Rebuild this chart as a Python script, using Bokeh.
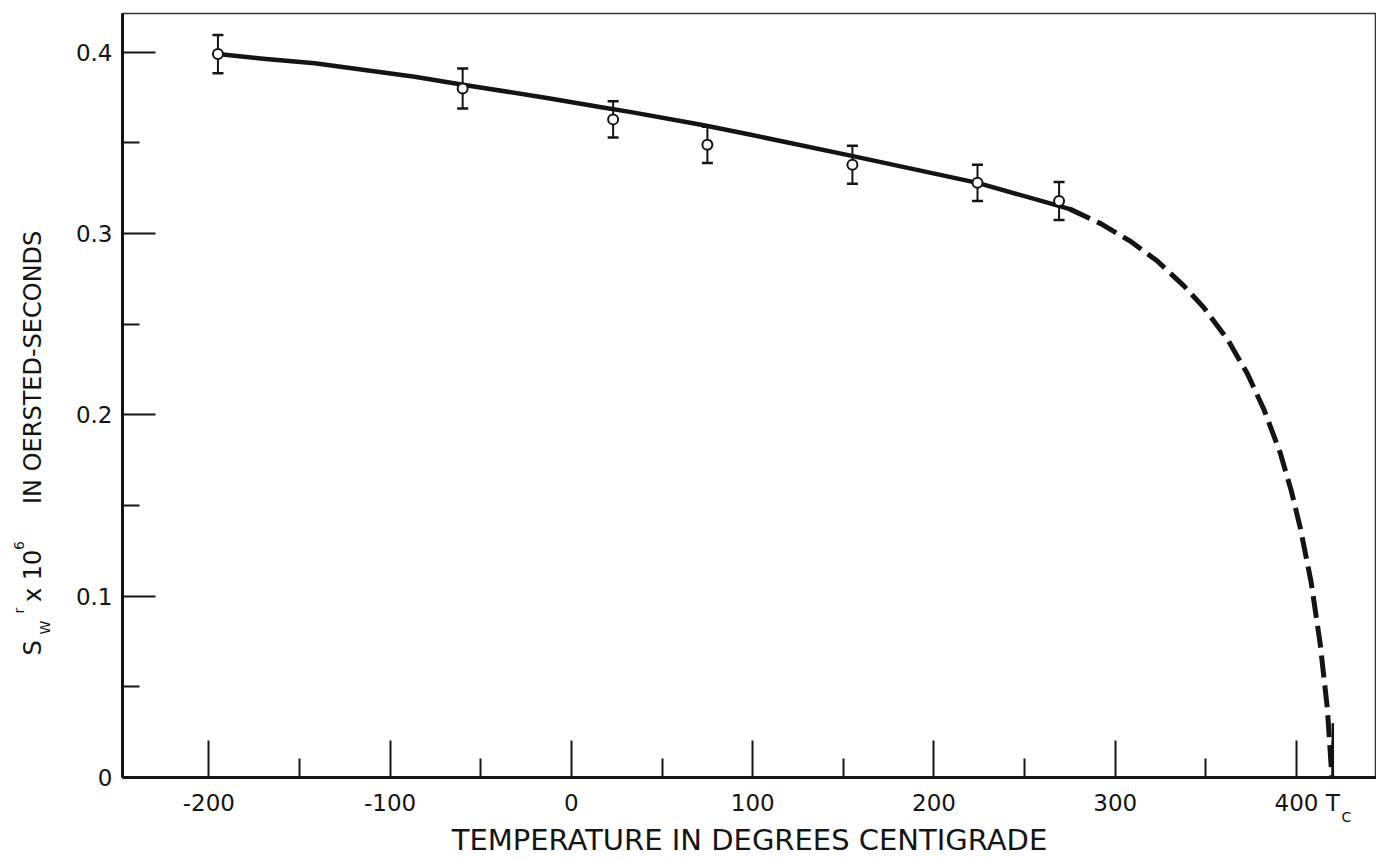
from bokeh.plotting import figure
from bokeh.models import FixedTicker, Label, Range1d
from bokeh.embed import file_html
from bokeh.resources import INLINE

# Measured remanent switching coefficient with its uncertainty
temp_c = [-195, -60, 23, 75, 155, 224, 269]
sw = [0.399, 0.380, 0.363, 0.349, 0.338, 0.328, 0.318]
sw_err = [0.0105, 0.011, 0.010, 0.010, 0.0105, 0.010, 0.0105]

# Smooth curve through the measurements (solid part)
fit_t = [-195, -170, -141.6, -86.5, -59, -12.7, 16.5, 33, 71.6, 99, 154, 224, 264.5, 275]
fit_s = [0.399, 0.3965, 0.394, 0.3865, 0.382, 0.3747, 0.3697, 0.367, 0.360, 0.3545, 0.343, 0.328, 0.3165, 0.3135]

# Extrapolation toward the Curie point (dashed part)
ext_t = [275, 292, 308, 323, 338, 349, 362, 373, 382, 391, 397, 402, 408, 413, 417, 419.5]
ext_s = [0.3135, 0.3055, 0.296, 0.285, 0.271, 0.259, 0.2415, 0.2225, 0.203, 0.179, 0.1585, 0.138, 0.108, 0.074, 0.038, 0.0]

T_CURIE = 420
T_CURIE_MARK = 0.030

x_major = [-200, -100, 0, 100, 200, 300, 400, T_CURIE]
x_labels = ["-200", "-100", "0", "100", "200", "300", "400", "T"]
x_minor = [-150, -50, 50, 150, 250, 350]
y_major = [0, 0.1, 0.2, 0.3, 0.4]
y_labels = ["0", "0.1", "0.2", "0.3", "0.4"]
y_minor = [0.05, 0.15, 0.25, 0.35]

NB = "\u00a0"
Y_TITLE_MAIN = "S" + NB * 5 + "x 10" + NB * 6 + "IN OERSTED-SECONDS"
Y_TITLE_SUP = "r" + NB * 13 + "6"
Y_TITLE_SUB = "W"
TC_SUB = "C"

# frame placement and scale
FRAME_LEFT = 122
PX_PER_DEG = 1.8128
X_END = 444.1
X_START = X_END - (1376 - FRAME_LEFT) / PX_PER_DEG
Y_START, Y_END = 0.0, 0.4214

FONT = "DejaVu Sans"
INK = "#141414"

p = figure(
    width=1376, height=860,
    x_range=Range1d(X_START, X_END), y_range=Range1d(Y_START, Y_END),
    output_backend="svg", toolbar_location=None, tools="",
    min_border_left=FRAME_LEFT, min_border_right=0, min_border_top=13, min_border_bottom=83,
    background_fill_color="white", border_fill_color="white",
)
p.grid.visible = False
p.outline_line_color = "#333333"
p.outline_line_width = 1.5

# x axis
xa = p.xaxis[0]
xa.ticker = FixedTicker(ticks=x_major, minor_ticks=x_minor)
xa.major_label_overrides = dict(zip(x_major, x_labels))
xa.axis_line_width = 3
xa.axis_line_color = INK
xa.major_tick_in = 37
xa.major_tick_out = 0
xa.minor_tick_in = 19
xa.minor_tick_out = 0
xa.major_tick_line_width = 2
xa.minor_tick_line_width = 2
xa.major_tick_line_color = INK
xa.minor_tick_line_color = INK
xa.major_label_text_font = FONT
xa.major_label_text_font_size = "23px"
xa.major_label_text_color = INK
xa.major_label_standoff = 12
xa.axis_label = "TEMPERATURE IN DEGREES CENTIGRADE"
xa.axis_label_text_font = FONT
xa.axis_label_text_font_size = "29px"
xa.axis_label_text_font_style = "normal"
xa.axis_label_text_color = INK
xa.axis_label_standoff = 4

# y axis
ya = p.yaxis[0]
ya.ticker = FixedTicker(ticks=y_major, minor_ticks=y_minor)
ya.major_label_overrides = dict(zip(y_major, y_labels))
ya.axis_line_width = 3
ya.axis_line_color = INK
ya.major_tick_in = 33
ya.major_tick_out = 0
ya.minor_tick_in = 17
ya.minor_tick_out = 0
ya.major_tick_line_width = 2
ya.minor_tick_line_width = 2
ya.major_tick_line_color = INK
ya.minor_tick_line_color = INK
ya.major_label_text_font = FONT
ya.major_label_text_font_size = "23px"
ya.major_label_text_color = INK
ya.major_label_standoff = 10
ya.major_label_orientation = "horizontal"

# curves
p.line(fit_t, fit_s, line_width=4.5, line_color=INK, line_join="round", line_cap="round")
p.line(ext_t, ext_s, line_width=5, line_color=INK, line_dash="22 8", line_join="round")

# Curie temperature mark on the axis
p.segment(x0=[T_CURIE], y0=[0], x1=[T_CURIE], y1=[T_CURIE_MARK], line_width=2.5, line_color=INK)

# error bars with caps, then open circles on top
lo = [s - e for s, e in zip(sw, sw_err)]
hi = [s + e for s, e in zip(sw, sw_err)]
p.segment(x0=temp_c, y0=lo, x1=temp_c, y1=hi, line_width=2, line_color=INK)
p.scatter(temp_c, lo, marker="dash", size=11, line_width=2.5, line_color=INK)
p.scatter(temp_c, hi, marker="dash", size=11, line_width=2.5, line_color=INK)
p.scatter(temp_c, sw, marker="circle", size=10, fill_color="white", line_color=INK, line_width=2)


def canvas_text(text, cx, cy, size, angle=0):
    # text at a fixed canvas position (pixels from the top-left corner); kept in
    # the left side panel so that it is not clipped to the plot frame
    p.add_layout(Label(x=cx, y=cy, x_units="canvas", y_units="canvas", text=text,
                       angle=angle, angle_units="deg",
                       text_align="left", text_baseline="bottom",
                       text_font=FONT, text_font_size=size, text_color=INK), "left")


# rotated y-axis title: main line, superscripts and subscript
canvas_text(Y_TITLE_MAIN, 46, 655, "24px", angle=90)
canvas_text(Y_TITLE_SUP, 26, 613, "14px", angle=90)
canvas_text(Y_TITLE_SUB, 52, 634, "14px", angle=90)

# subscript of the T_C tick label
canvas_text(TC_SUB, 1341, 824, "14px")

open("out.html", "w").write(file_html(p, INLINE))
